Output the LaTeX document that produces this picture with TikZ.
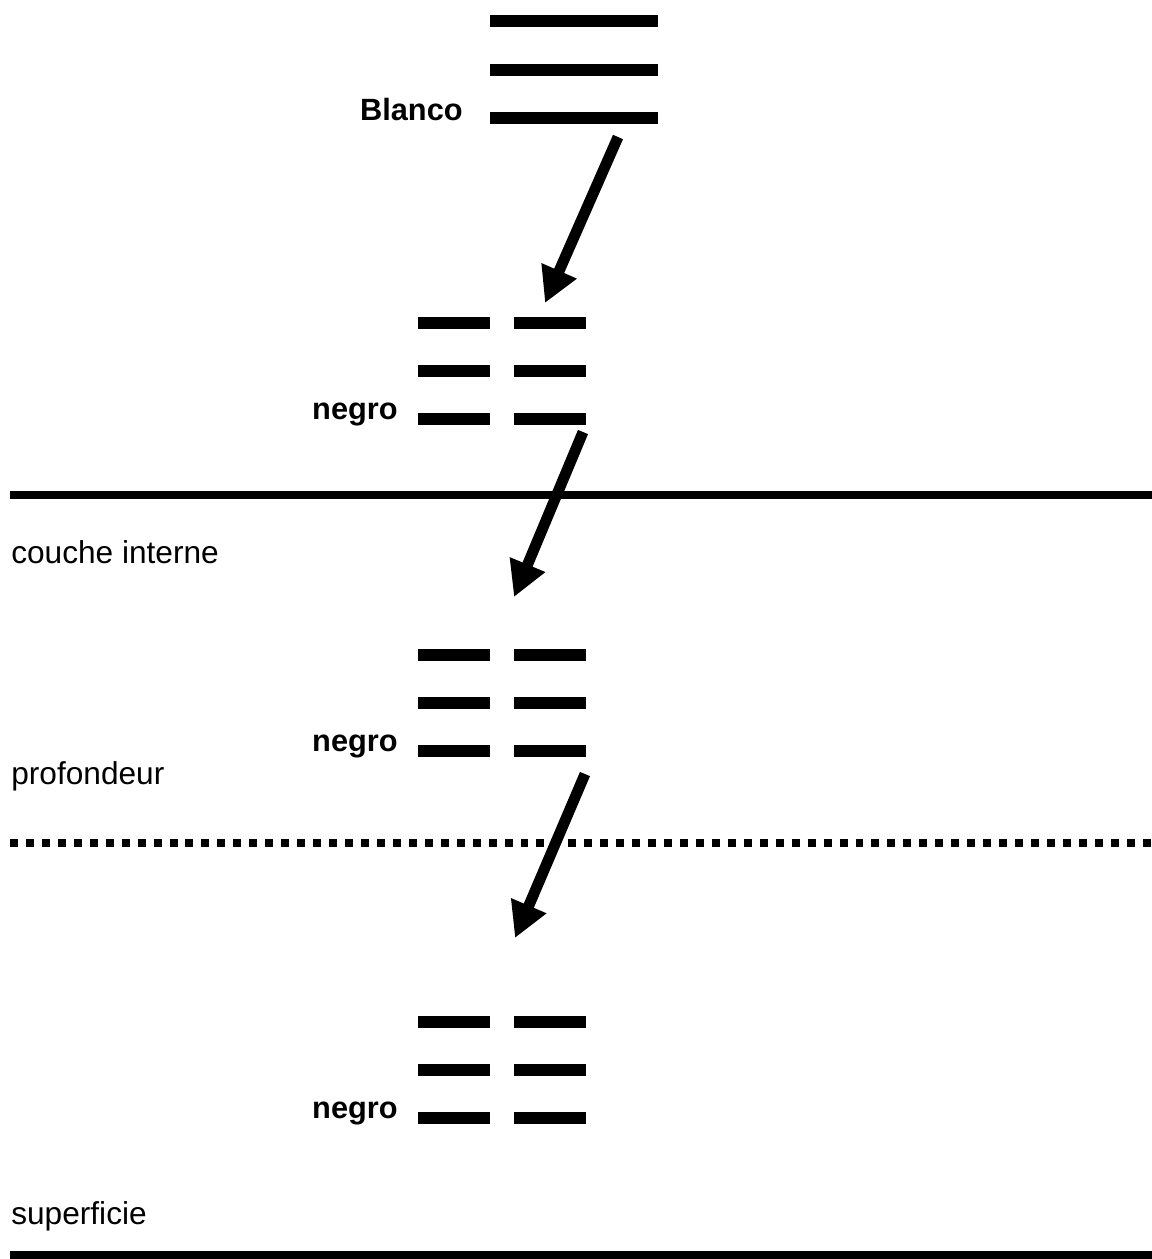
\documentclass[tikz,border=0pt]{standalone}
\usepackage{fontspec}
\setmainfont{Liberation Sans}
\usepackage{tikz}
\usetikzlibrary{arrows.meta, positioning, calc}

\begin{document}
\begin{tikzpicture}[
    x=0.02cm, y=-0.02cm,
    level/.style={line width=6.8pt},
    layer/.style={line width=4.5pt},
    dotlayer/.style={line width=4.5pt, dash pattern=on 4.54pt off 4.54pt},
    arrow/.style={-{Triangle[length=20pt, width=20.5pt]}, line width=6.2pt},
    lbl/.style={font=\fontsize{17.5}{21}\selectfont\bfseries, anchor=base east, inner sep=0pt},
    zone/.style={font=\fontsize{18}{22}\selectfont, anchor=base west, inner sep=0pt}
]
    \useasboundingbox (0,0) rectangle (1152,1259);

    % layers
    \draw[layer]    (10,495)  -- (1152,495);
    \draw[dotlayer] (10,843)  -- (1152,843);
    \draw[layer]    (10,1255) -- (1152,1255);

    \node[zone] (interne) at (11,563)  {couche interne};
    \node[zone] (prof)    at (11,784)  {profondeur};
    \node[zone] (surf)    at (11,1224) {superficie};

    % white level
    \foreach \y in {21,70,118}
        \draw[level] (490,\y) -- (658,\y);
    \node[lbl] (blanco) at (463,120) {Blanco};

    % black levels
    \foreach \g/\y in {a/323, b/655, c/1022} {
        \foreach \d in {0,48,96} {
            \draw[level] (418,\y+\d) -- (490,\y+\d);
            \draw[level] (514,\y+\d) -- (586,\y+\d);
        }
        \node[lbl] (negro\g) at (398,\y+96) {negro};
    }

    \coordinate (t1) at (618,137);
    \coordinate (h1) at (545,303);
    \coordinate (t2) at (583,432);
    \coordinate (h2) at (514,597);
    \coordinate (t3) at (585,774);
    \coordinate (h3) at (515,938);

    \draw[arrow] (t1) -- (h1);
    \draw[arrow] (t2) -- (h2);
    \draw[arrow] (t3) -- (h3);
\end{tikzpicture}
\end{document}
